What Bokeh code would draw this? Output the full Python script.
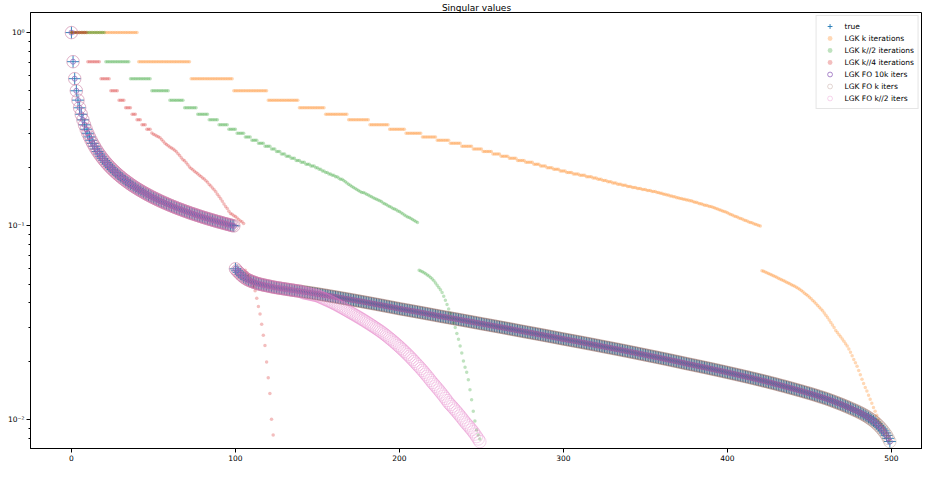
import numpy as np
from bokeh.plotting import figure
from bokeh.models import Range1d, FixedTicker, CustomJSTickFormatter
from bokeh.embed import file_html
from bokeh.resources import INLINE

# ---- data ----
# leading cluster of true singular values (index 0..99)
top_vals = [1.0, 0.7071, 0.5774, 0.5, 0.4472, 0.4082, 0.378, 0.3536, 0.3333, 0.3162,
            0.3015, 0.2887, 0.2774, 0.2673, 0.2582, 0.25, 0.2425, 0.2357, 0.2294, 0.2236,
            0.2182, 0.2132, 0.2085, 0.2041, 0.2, 0.1961, 0.1925, 0.189, 0.1857, 0.1826,
            0.1796, 0.1768, 0.1741, 0.1715, 0.169, 0.1667, 0.1644, 0.1622, 0.1601, 0.1581,
            0.1562, 0.1543, 0.1525, 0.1508, 0.1491, 0.1474, 0.1459, 0.1443, 0.1429, 0.1414,
            0.14, 0.1387, 0.1374, 0.1361, 0.1348, 0.1336, 0.1325, 0.1313, 0.1302, 0.1291,
            0.128, 0.127, 0.126, 0.125, 0.124, 0.1231, 0.1222, 0.1213, 0.1204, 0.1195,
            0.1187, 0.1179, 0.117, 0.1162, 0.1155, 0.1147, 0.114, 0.1132, 0.1125, 0.1118,
            0.1111, 0.1104, 0.1098, 0.1091, 0.1085, 0.1078, 0.1072, 0.1066, 0.106, 0.1054,
            0.1048, 0.1043, 0.1037, 0.1031, 0.1026, 0.1021, 0.1015, 0.101, 0.1005, 0.1]

# second cluster of true singular values (index 100..499)
low_vals = [0.06, 0.0586, 0.0575, 0.0563, 0.0553, 0.0544, 0.0537, 0.053, 0.0525, 0.052,
            0.0516, 0.0512, 0.0509, 0.0505, 0.0502, 0.05, 0.0497, 0.0495, 0.0493, 0.0491,
            0.0489, 0.0487, 0.0485, 0.0483, 0.0481, 0.04796, 0.04781, 0.04767, 0.04752, 0.04738,
            0.04723, 0.04708, 0.04694, 0.04679, 0.04665, 0.0465, 0.04637, 0.04623, 0.0461, 0.04597,
            0.04583, 0.0457, 0.04557, 0.04543, 0.0453, 0.04517, 0.04503, 0.0449, 0.04477, 0.04463,
            0.0445, 0.04436, 0.04421, 0.04407, 0.04392, 0.04378, 0.04364, 0.04349, 0.04335, 0.0432,
            0.04306, 0.04292, 0.04277, 0.04263, 0.04248, 0.04234, 0.0422, 0.04205, 0.04191, 0.04176,
            0.04162, 0.04148, 0.04133, 0.04119, 0.04104, 0.0409, 0.04076, 0.04061, 0.04047, 0.04032,
            0.04018, 0.04004, 0.03989, 0.03975, 0.0396, 0.03946, 0.03932, 0.03917, 0.03903, 0.03888,
            0.03874, 0.0386, 0.03845, 0.03831, 0.03816, 0.03802, 0.03788, 0.03773, 0.03759, 0.03744,
            0.0373, 0.03717, 0.03704, 0.03692, 0.03679, 0.03666, 0.03653, 0.0364, 0.03628, 0.03615,
            0.03602, 0.03589, 0.03576, 0.03564, 0.03551, 0.03538, 0.03525, 0.03512, 0.035, 0.03487,
            0.03474, 0.03461, 0.03448, 0.03436, 0.03423, 0.0341, 0.03398, 0.03387, 0.03375, 0.03364,
            0.03352, 0.0334, 0.03329, 0.03317, 0.03306, 0.03294, 0.03282, 0.03271, 0.03259, 0.03248,
            0.03236, 0.03224, 0.03213, 0.03201, 0.0319, 0.03178, 0.03166, 0.03155, 0.03143, 0.03132,
            0.0312, 0.03109, 0.03098, 0.03088, 0.03077, 0.03066, 0.03055, 0.03044, 0.03034, 0.03023,
            0.03012, 0.03001, 0.0299, 0.0298, 0.02969, 0.02958, 0.02947, 0.02936, 0.02926, 0.02915,
            0.02904, 0.02893, 0.02882, 0.02872, 0.02861, 0.0285, 0.0284, 0.0283, 0.0282, 0.0281,
            0.028, 0.0279, 0.0278, 0.0277, 0.0276, 0.0275, 0.0274, 0.0273, 0.0272, 0.0271,
            0.027, 0.0269, 0.0268, 0.0267, 0.0266, 0.0265, 0.0264, 0.0263, 0.0262, 0.0261,
            0.026, 0.02591, 0.02582, 0.02572, 0.02563, 0.02554, 0.02545, 0.02536, 0.02526, 0.02517,
            0.02508, 0.02499, 0.0249, 0.0248, 0.02471, 0.02462, 0.02453, 0.02444, 0.02434, 0.02425,
            0.02416, 0.02407, 0.02398, 0.02388, 0.02379, 0.0237, 0.02361, 0.02352, 0.02344, 0.02335,
            0.02326, 0.02317, 0.02308, 0.023, 0.02291, 0.02282, 0.02273, 0.02264, 0.02256, 0.02247,
            0.02238, 0.02229, 0.0222, 0.02212, 0.02203, 0.02194, 0.02185, 0.02176, 0.02168, 0.02159,
            0.0215, 0.02142, 0.02133, 0.02125, 0.02116, 0.02108, 0.021, 0.02091, 0.02083, 0.02074,
            0.02066, 0.02058, 0.02049, 0.02041, 0.02032, 0.02024, 0.02016, 0.02007, 0.01999, 0.0199,
            0.01982, 0.01974, 0.01965, 0.01957, 0.01948, 0.0194, 0.01932, 0.01924, 0.01917, 0.01909,
            0.01901, 0.01893, 0.01886, 0.01878, 0.0187, 0.01862, 0.01855, 0.01847, 0.01839, 0.01831,
            0.01824, 0.01816, 0.01808, 0.018, 0.01793, 0.01785, 0.01777, 0.01769, 0.01762, 0.01754,
            0.01746, 0.01738, 0.01731, 0.01723, 0.01716, 0.01708, 0.017, 0.01693, 0.01685, 0.01678,
            0.0167, 0.01662, 0.01655, 0.01647, 0.0164, 0.01632, 0.01624, 0.01617, 0.01609, 0.01602,
            0.01594, 0.01586, 0.01579, 0.01571, 0.01564, 0.01556, 0.01548, 0.0154, 0.01533, 0.01525,
            0.01517, 0.01509, 0.01501, 0.01493, 0.01486, 0.01478, 0.0147, 0.01462, 0.01454, 0.01447,
            0.01439, 0.01431, 0.01423, 0.01415, 0.01408, 0.014, 0.01392, 0.01384, 0.01376, 0.01369,
            0.01361, 0.01353, 0.01345, 0.01337, 0.01329, 0.01321, 0.01312, 0.01304, 0.01296, 0.01288,
            0.0128, 0.01271, 0.01262, 0.01253, 0.01244, 0.01235, 0.01225, 0.01216, 0.01207, 0.01198,
            0.01189, 0.01179, 0.01169, 0.0116, 0.0115, 0.0114, 0.0113, 0.0112, 0.01111, 0.01101,
            0.01091, 0.0108, 0.01069, 0.01058, 0.01046, 0.01035, 0.01021, 0.01007, 0.00994, 0.0098,
            0.00966, 0.00948, 0.0093, 0.00912, 0.00892, 0.00871, 0.00849, 0.00826, 0.00797, 0.00767]

# LGK, k iterations: how many times each leading value repeats, then the tail
lgk_k_counts = [41, 32, 26, 21, 19, 16, 14, 13, 12, 10, 10, 9, 8, 7, 7,
                6, 6, 5, 5, 5, 5,
                5, 4, 4, 4, 4,
                4, 4, 4, 4, 4,
                3, 3, 3, 3, 3, 3, 3,
                3, 3, 3, 3, 3, 3, 2,
                2, 2, 2, 2, 2, 2, 2, 2, 2, 2, 1,
                2, 1, 2, 1, 2, 1, 2, 1, 1, 1, 1, 1, 1, 1, 1, 1,
                1, 0, 1, 1, 1, 0, 1, 1, 1, 0, 1, 1, 1, 0, 1, 1, 1, 0, 1, 1, 1, 0, 1, 1, 1, 0, 1, 1]
lgk_k_tail = [0.0587, 0.0582, 0.0577, 0.0572, 0.0567, 0.0562, 0.0557, 0.0552, 0.0547,
              0.0542, 0.0537, 0.0532, 0.0527, 0.0522, 0.0517, 0.0512, 0.0507, 0.0502, 0.0497,
              0.0492, 0.0487, 0.0482, 0.0476, 0.047, 0.0463, 0.0456, 0.0449, 0.0442, 0.0435,
              0.0428, 0.042, 0.0412, 0.0404, 0.0396, 0.0388, 0.038, 0.0372, 0.0364, 0.0355,
              0.0345, 0.0336, 0.0326, 0.0317, 0.0307, 0.0298, 0.0288, 0.0281, 0.0274, 0.0267,
              0.026, 0.0253, 0.0246, 0.0239, 0.0231, 0.0222, 0.0213, 0.0204, 0.0196, 0.0188,
              0.0179, 0.017, 0.0161, 0.0153, 0.0146, 0.014, 0.0133, 0.0127, 0.0121, 0.0115,
              0.011, 0.0105, 0.01, 0.0096, 0.0093, 0.009, 0.0087, 0.0084, 0.0081, 0.0078]

# LGK, k//2 iterations
lgk_half_counts = [21, 15, 13, 11, 9, 8, 7, 6, 6, 5, 5,
                   4, 4, 4, 4, 3, 3, 3, 3,
                   3, 3, 3, 3, 3, 2, 2, 2,
                   2, 2, 2, 2, 1, 2, 1, 1, 1,
                   1, 1, 1, 1, 1, 1, 1, 1, 2, 1, 1, 1, 1, 1, 1, 1,
                   1, 1, 1, 1, 0, 1, 1, 1, 0, 1, 1, 1, 0, 1, 1, 1, 0, 1,
                   1, 0, 1, 0, 1, 0, 1, 0, 1, 0, 1, 1, 0, 1, 0, 1, 0, 1, 0, 1, 0, 1,
                   0, 0, 0, 0, 0, 0, 0, 0]
lgk_half_tail = [0.059, 0.0585, 0.058, 0.0573, 0.0566, 0.0558, 0.055, 0.0541, 0.0532, 0.052,
                 0.0507, 0.0494, 0.048, 0.0467, 0.0453, 0.0433, 0.0413, 0.0392, 0.0372, 0.0353,
                 0.0335, 0.0316, 0.0298, 0.0278, 0.0259, 0.0239, 0.022, 0.02, 0.0186, 0.0175,
                 0.016, 0.0142, 0.0126, 0.011, 0.0098, 0.0088, 0.0083, 0.0079]

# LGK, k//4 iterations
lgk_quarter_counts = [10, 8, 6, 5, 4, 4, 3, 3, 3, 3]
lgk_quarter_mid = [0.302, 0.298, 0.295, 0.292, 0.289, 0.286, 0.28, 0.274, 0.268, 0.264,
                   0.26, 0.256, 0.253, 0.25, 0.246, 0.242, 0.236, 0.231, 0.225, 0.22,
                   0.217, 0.212, 0.207, 0.202, 0.198, 0.195, 0.192, 0.189, 0.186, 0.183,
                   0.18, 0.177, 0.175, 0.171, 0.168, 0.164, 0.161, 0.157, 0.154, 0.15,
                   0.146, 0.142, 0.138, 0.134, 0.13, 0.126, 0.123, 0.119, 0.116, 0.115,
                   0.113, 0.112, 0.11, 0.108, 0.106, 0.105, 0.103]
lgk_quarter_tail = [0.059, 0.0572, 0.0552, 0.053, 0.0507, 0.0485, 0.0462, 0.0422, 0.0383,
                    0.035, 0.031, 0.0272, 0.0241, 0.0198, 0.0164, 0.0136, 0.01, 0.0083]

# LGK FO, k//2 iterations: follows the true values up to index 140, then this tail
fo_half_matched = 141
fo_half_tail = [0.04521, 0.04502, 0.04483, 0.04464, 0.04445, 0.04426, 0.04407, 0.04388, 0.04369,
                0.0435, 0.04313, 0.04276, 0.04239, 0.04202, 0.04165, 0.04128, 0.04091, 0.04054, 0.04017,
                0.0398, 0.03939, 0.03898, 0.03857, 0.03816, 0.03775, 0.03734, 0.03693, 0.03652, 0.03611,
                0.0357, 0.03531, 0.03492, 0.03453, 0.03414, 0.03375, 0.03336, 0.03297, 0.03258, 0.03219,
                0.0318, 0.03141, 0.03102, 0.03063, 0.03024, 0.02985, 0.02946, 0.02907, 0.02868, 0.02829,
                0.0279, 0.02748, 0.02706, 0.02664, 0.02622, 0.0258, 0.02538, 0.02496, 0.02454, 0.02412,
                0.0237, 0.02328, 0.02286, 0.02244, 0.02202, 0.0216, 0.02118, 0.02076, 0.02034, 0.01992,
                0.0195, 0.0191, 0.0187, 0.0183, 0.0179, 0.0175, 0.0171, 0.0167, 0.0163, 0.0159,
                0.0155, 0.01517, 0.01483, 0.0145, 0.01416, 0.01383, 0.0135, 0.01316, 0.01283, 0.01249,
                0.01216, 0.01191, 0.01166, 0.01141, 0.01116, 0.01091, 0.01066, 0.01041, 0.01016, 0.00991,
                0.00966, 0.00945, 0.00924, 0.00903, 0.00882, 0.00861, 0.00838, 0.00814, 0.00791, 0.00767]

x_ticks = [0, 100, 200, 300, 400, 500]
labels = ["true", "LGK k iterations", "LGK k//2 iterations", "LGK k//4 iterations",
          "LGK FO 10k iters", "LGK FO k iters", "LGK FO k//2 iters"]

# ---- assemble series ----
true_y = np.array(top_vals + low_vals)
lgk_k_y = np.concatenate([np.repeat(top_vals, lgk_k_counts), lgk_k_tail])
lgk_half_y = np.concatenate([np.repeat(top_vals, lgk_half_counts), lgk_half_tail])
lgk_quarter_y = np.concatenate([np.repeat(top_vals[:len(lgk_quarter_counts)], lgk_quarter_counts),
                                lgk_quarter_mid, lgk_quarter_tail])
fo_10k_y = true_y
fo_k_y = true_y
fo_half_y = np.concatenate([true_y[:fo_half_matched], fo_half_tail])

def idx(a):
    return np.arange(len(a))

FONT = "DejaVu Sans"

p = figure(width=922, height=463, output_backend="svg", toolbar_location=None,
           y_axis_type="log",
           x_range=Range1d(-24.95, 518.9), y_range=Range1d(0.00706, 1.27),
           min_border_left=30, min_border_right=0, min_border_top=0, min_border_bottom=0,
           background_fill_color="white", border_fill_color="white")

p.title.text = "Singular values"
p.title.align = "center"
p.title.text_font = FONT
p.title.text_font_size = "9px"
p.title.text_font_style = "normal"
p.title.text_color = "black"
p.title.standoff = 0

p.xgrid.visible = False
p.ygrid.visible = False
p.outline_line_color = "black"
p.outline_line_width = 1
p.outline_line_alpha = 1

p.xaxis.ticker = FixedTicker(ticks=x_ticks)
p.xaxis.minor_tick_line_color = None
p.yaxis.formatter = CustomJSTickFormatter(code="""
const e = Math.round(Math.log10(tick));
const sup = {"-": "\u207b", "0": "\u2070", "1": "\u00b9", "2": "\u00b2", "3": "\u00b3",
             "4": "\u2074", "5": "\u2075", "6": "\u2076", "7": "\u2077", "8": "\u2078", "9": "\u2079"};
return "10" + String(e).split("").map(c => sup[c]).join("");
""")
for ax in (p.xaxis, p.yaxis):
    ax.major_label_text_font = FONT
    ax.major_label_text_font_size = "7.5px"
    ax.major_label_text_color = "black"
    ax.axis_line_color = "black"
    ax.major_tick_line_color = "black"
    ax.major_tick_out = 4
    ax.major_tick_in = 0
    ax.minor_tick_out = 2
    ax.minor_tick_in = 0
    ax.major_label_standoff = 2
p.yaxis.minor_tick_line_color = "black"

# ---- marks ----
p.scatter(idx(true_y), true_y, marker="cross", size=12, line_color="#1f77b4",
          line_width=0.9, legend_label=labels[0])
p.scatter(idx(lgk_k_y), lgk_k_y, marker="circle", size=3.5, fill_color="#ff7f0e",
          fill_alpha=0.3, line_color=None, legend_label=labels[1])
p.scatter(idx(lgk_half_y), lgk_half_y, marker="circle", size=3.5, fill_color="#2ca02c",
          fill_alpha=0.3, line_color=None, legend_label=labels[2])
p.scatter(idx(lgk_quarter_y), lgk_quarter_y, marker="circle", size=3.5, fill_color="#d62728",
          fill_alpha=0.3, line_color=None, legend_label=labels[3])
p.scatter(idx(fo_10k_y), fo_10k_y, marker="circle", size=5, fill_color=None,
          line_color="#9467bd", line_width=0.8, legend_label=labels[4])
p.scatter(idx(fo_k_y), fo_k_y, marker="circle", size=12.5, fill_color=None,
          line_color="#8c564b", line_alpha=0.35, line_width=0.7, legend_label=labels[5])
p.scatter(idx(fo_half_y), fo_half_y, marker="circle", size=12.5, fill_color=None,
          line_color="#e377c2", line_alpha=0.45, line_width=0.7, legend_label=labels[6])

lg = p.legend[0]
lg.location = "top_right"
lg.margin = 3
lg.padding = 4
lg.spacing = 0
lg.glyph_height = 12
lg.glyph_width = 18
lg.label_height = 12
lg.label_standoff = 6
lg.label_text_font = FONT
lg.label_text_font_size = "7.5px"
lg.label_text_color = "black"
lg.border_line_color = "#cccccc"
lg.border_line_width = 1
lg.background_fill_alpha = 0.8

open("out.html", "w").write(file_html(p, INLINE))
